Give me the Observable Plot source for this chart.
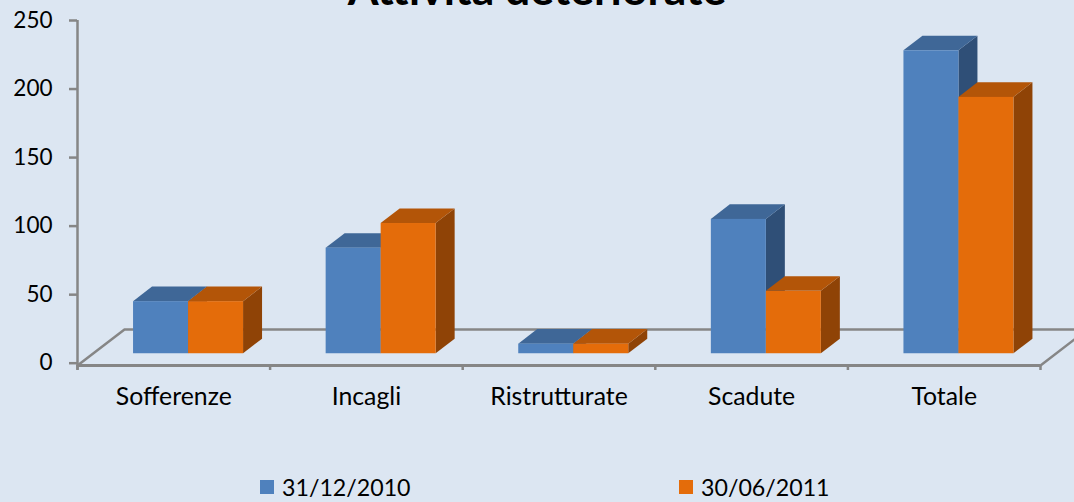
<!DOCTYPE html>
<html><head><meta charset="utf-8">
<script src="https://cdn.jsdelivr.net/npm/d3@7"></script>
<script src="https://cdn.jsdelivr.net/npm/@observablehq/plot@0.6"></script>
<style>
html,body{margin:0;padding:0;background:#DCE6F2;overflow:hidden;width:1074px;height:502px;}
body{position:relative;font-family:Lato,sans-serif;color:#000;}
#title{position:absolute;left:0;width:1074px;top:-36px;text-align:center;font-weight:700;font-size:44.5px;line-height:48px;white-space:nowrap;}
#legend{position:absolute;left:0;top:455px;width:1074px;height:47px;font-size:23.2px;}
.item{position:absolute;top:22px;height:30px;line-height:30px;white-space:nowrap;}
.sw{position:absolute;left:0;top:3px;width:14px;height:14px;}
.lb{position:absolute;left:22px;top:-5px;}
#chart svg{background:transparent;display:block;overflow:hidden;}
</style></head>
<body>
<div id="chart"></div>
<div id="title">Attività deteriorate</div>
<div id="legend"></div>
<script>
const categories = ["Sofferenze","Incagli","Ristrutturate","Scadute","Totale"];
const seriesNames = ["31/12/2010","30/06/2011"];
const values2010 = [38,77,7,98,221];
const values2011 = [38,95,7,45.5,187];
const yTicks = [0,50,100,150,200,250];
const frontColors = ["#4F81BD","#E46C0A"];
const topColors = ["#3F6797","#B35508"];
const sideColors = ["#2F4F77","#8F4306"];
const gridColor = "#868686";

// depth settings, expressed in scale units
const barStart = 0.291, barWidth = 0.2856, depthX = 0.0986, depthY = 10.6, base = 6.9;
const floorY = -1.6, floorBackY = 24.6, floorDX = 0.244;

const marks = [];
// floor
marks.push(Plot.line([{x:0,y:floorY},{x:floorDX,y:floorBackY},{x:5+floorDX,y:floorBackY},{x:5,y:floorY}],
  {x:"x",y:"y",stroke:gridColor,strokeWidth:2.5,curve:"linear",clip:false}));
// axis lines
marks.push(Plot.ruleX([0],{y1:floorY-3.5,y2:250,stroke:gridColor,strokeWidth:2.5}));
marks.push(Plot.ruleY([floorY],{x1:0,x2:5,stroke:gridColor,strokeWidth:3}));

[values2010,values2011].forEach((vals,s)=>{
  const bars = vals.map((v,i)=>({i,x1:i+barStart+s*barWidth,x2:i+barStart+(s+1)*barWidth,y1:base,y2:base+v}));
  const side = bars.flatMap(b=>[
    {z:b.i,x:b.x2,y1:b.y1,y2:b.y2},
    {z:b.i,x:b.x2+depthX,y1:b.y1+depthY,y2:b.y2+depthY}]);
  const top = bars.flatMap(b=>[
    {z:b.i,y:b.y2,x1:b.x1,x2:b.x2},
    {z:b.i,y:b.y2+depthY,x1:b.x1+depthX,x2:b.x2+depthX}]);
  marks.push(Plot.areaY(side,{x:"x",y1:"y1",y2:"y2",z:"z",fill:sideColors[s],curve:"linear"}));
  marks.push(Plot.areaX(top,{y:"y",x1:"x1",x2:"x2",z:"z",fill:topColors[s],curve:"linear"}));
  marks.push(Plot.rect(bars,{x1:"x1",x2:"x2",y1:"y1",y2:"y2",fill:frontColors[s]}));
});

marks.push(Plot.axisY({ticks:yTicks,tickSize:8,tickPadding:17,stroke:gridColor,strokeWidth:2.5,tickFormat:d=>String(d),label:null,fontSize:22.5,fill:"#000"}));
marks.push(Plot.axisX({ticks:d3.range(0,6),tickSize:5,stroke:gridColor,strokeWidth:2.5,tickFormat:()=>"",label:null}));
marks.push(Plot.text(categories,{x:(d,i)=>i+0.5,y:-25,text:d=>d,fontSize:24.8,fill:"#000",textAnchor:"middle",lineAnchor:"middle"}));

const chart = Plot.plot({
  width:1074,height:455,
  marginLeft:77,marginRight:34,marginTop:20,marginBottom:90,
  style:{background:"transparent",fontFamily:"Lato, sans-serif",overflow:"hidden"},
  x:{type:"linear",domain:[0,5],range:[77,1040],axis:null},
  y:{type:"linear",domain:[0,250],range:[362.7,20],axis:null},
  marks
});
document.getElementById("chart").appendChild(chart);

const legend = document.getElementById("legend");
[260,679].forEach((left,s)=>{
  const item = document.createElement("div");
  item.className="item"; item.style.left=left+"px";
  item.innerHTML=`<span class="sw" style="background:${frontColors[s]}"></span><span class="lb">${seriesNames[s]}</span>`;
  legend.appendChild(item);
});
</script>
</body></html>
